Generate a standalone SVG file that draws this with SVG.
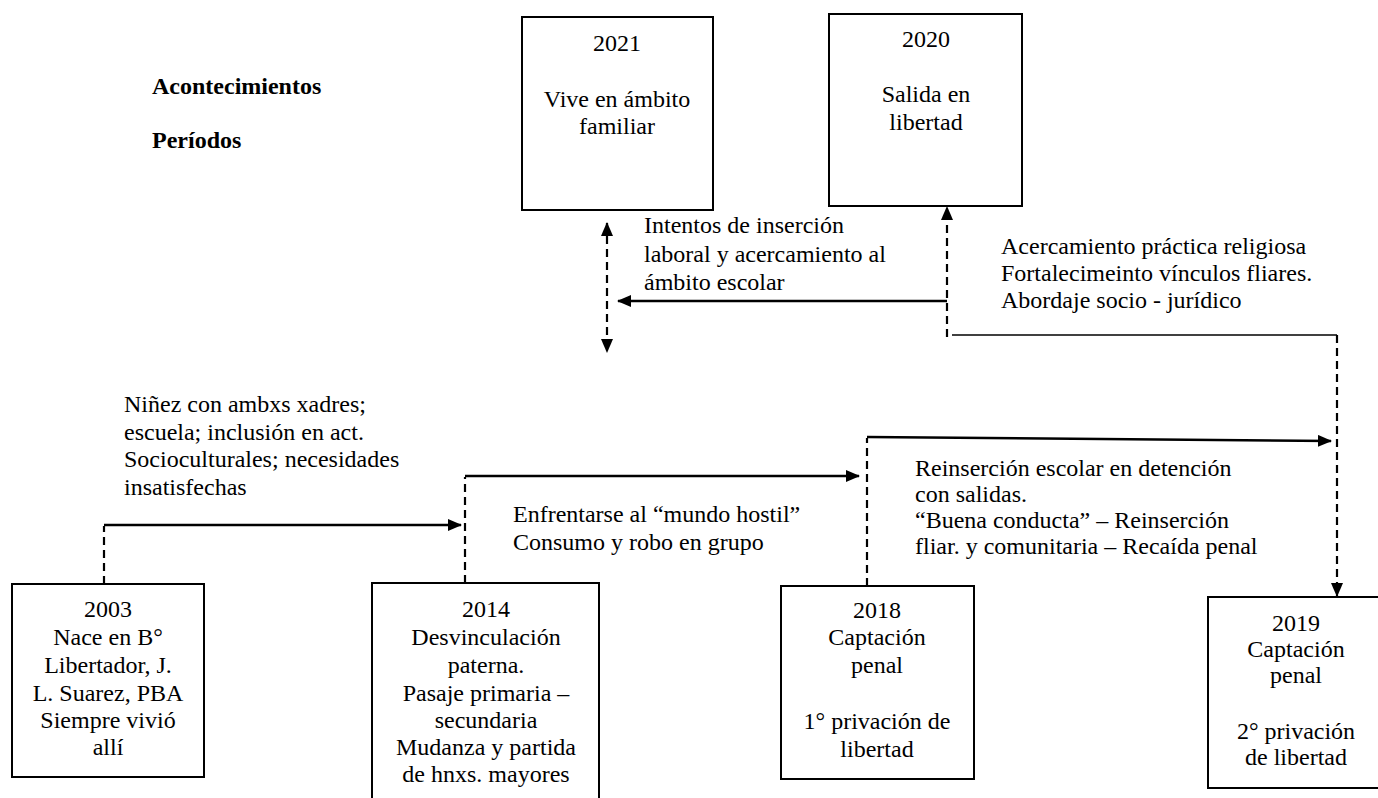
<svg xmlns="http://www.w3.org/2000/svg" width="1378" height="798" viewBox="0 0 1378 798">
<defs>
<style>
text{font-family:"Liberation Serif","Times New Roman",serif;font-size:24px;fill:#000}
.c{text-anchor:middle}
.b{font-weight:bold}
.box{fill:#fff;stroke:#000;stroke-width:2}
.d{fill:none;stroke:#000;stroke-width:2.2;stroke-dasharray:8 5}
.s{fill:none;stroke:#000;stroke-width:2.6}
.t{fill:none;stroke:#000;stroke-width:1.6}
</style>
<marker id="ah" viewBox="0 0 14 12" refX="13" refY="6" markerWidth="14" markerHeight="12" markerUnits="userSpaceOnUse" orient="auto-start-reverse">
<path d="M0,0 L14,6 L0,12 z" fill="#000"/>
</marker>
</defs>
<rect width="1378" height="798" fill="#fff"/>

<g id="labels">
<text class="b" x="152" y="94">Acontecimientos</text>
<text class="b" x="152" y="148">Períodos</text>
</g>

<g id="connectors">
<path class="d" d="M104,584 V526"/>
<path class="s" d="M104,525 H461" marker-end="url(#ah)"/>
<path class="d" d="M465,583 V477"/>
<path class="s" d="M465,476 H859" marker-end="url(#ah)"/>
<path class="d" d="M867,586 V438"/>
<path class="s" d="M867,437 L1331,441" marker-end="url(#ah)"/>
<path class="d" d="M1337,335 V596" marker-end="url(#ah)"/>
<path class="t" d="M952,335 H1337"/>
<path class="d" d="M947,337 V207" marker-end="url(#ah)"/>
<path class="s" d="M947,301 H618" marker-end="url(#ah)"/>
<path class="d" d="M607,223 V352" marker-start="url(#ah)" marker-end="url(#ah)"/>
</g>

<g id="period-labels">
<text x="124" y="412">Niñez con ambxs xadres;</text>
<text x="124" y="439.5">escuela; inclusión en act.</text>
<text x="124" y="467">Socioculturales; necesidades</text>
<text x="124" y="494.5">insatisfechas</text>

<text x="513" y="522">Enfrentarse al “mundo hostil”</text>
<text x="513" y="550">Consumo y robo en grupo</text>

<text x="915" y="476">Reinserción escolar en detención</text>
<text x="915" y="502">con salidas.</text>
<text x="915" y="528">“Buena conducta” – Reinserción</text>
<text x="915" y="554">fliar. y comunitaria – Recaída penal</text>

<text x="1001" y="254">Acercamiento práctica religiosa</text>
<text x="1001" y="281">Fortalecimeinto vínculos fliares.</text>
<text x="1001" y="308">Abordaje socio - jurídico</text>

<text x="644" y="233">Intentos de inserción</text>
<text x="644" y="261.5">laboral y acercamiento al</text>
<text x="644" y="290">ámbito escolar</text>
</g>

<g id="n2003">
<rect class="box" x="12" y="584" width="192" height="193"/>
<text class="c" x="108" y="617">2003</text>
<text class="c" x="108" y="645">Nace en B°</text>
<text class="c" x="108" y="673">Libertador, J.</text>
<text class="c" x="108" y="701">L. Suarez, PBA</text>
<text class="c" x="108" y="728">Siempre vivió</text>
<text class="c" x="108" y="755">allí</text>
</g>

<g id="n2014">
<rect class="box" x="372" y="583" width="227" height="240"/>
<text class="c" x="486" y="617">2014</text>
<text class="c" x="486" y="645">Desvinculación</text>
<text class="c" x="486" y="673">paterna.</text>
<text class="c" x="486" y="701">Pasaje primaria –</text>
<text class="c" x="486" y="728">secundaria</text>
<text class="c" x="486" y="755">Mudanza y partida</text>
<text class="c" x="486" y="782">de hnxs. mayores</text>
</g>

<g id="n2018">
<rect class="box" x="781" y="586" width="193" height="193"/>
<text class="c" x="877" y="618">2018</text>
<text class="c" x="877" y="645">Captación</text>
<text class="c" x="877" y="673">penal</text>
<text class="c" x="877" y="729">1° privación de</text>
<text class="c" x="877" y="757">libertad</text>
</g>

<g id="n2019">
<rect class="box" x="1208" y="597" width="176" height="191"/>
<text class="c" x="1296" y="631">2019</text>
<text class="c" x="1296" y="657">Captación</text>
<text class="c" x="1296" y="683">penal</text>
<text class="c" x="1296" y="739">2° privación</text>
<text class="c" x="1296" y="765">de libertad</text>
</g>

<g id="n2020">
<rect class="box" x="829" y="14" width="193" height="192"/>
<text class="c" x="926" y="47">2020</text>
<text class="c" x="926" y="102">Salida en</text>
<text class="c" x="926" y="130">libertad</text>
</g>

<g id="n2021">
<rect class="box" x="522" y="17" width="191" height="193"/>
<text class="c" x="617" y="51">2021</text>
<text class="c" x="617" y="107">Vive en ámbito</text>
<text class="c" x="617" y="134">familiar</text>
</g>
</svg>
